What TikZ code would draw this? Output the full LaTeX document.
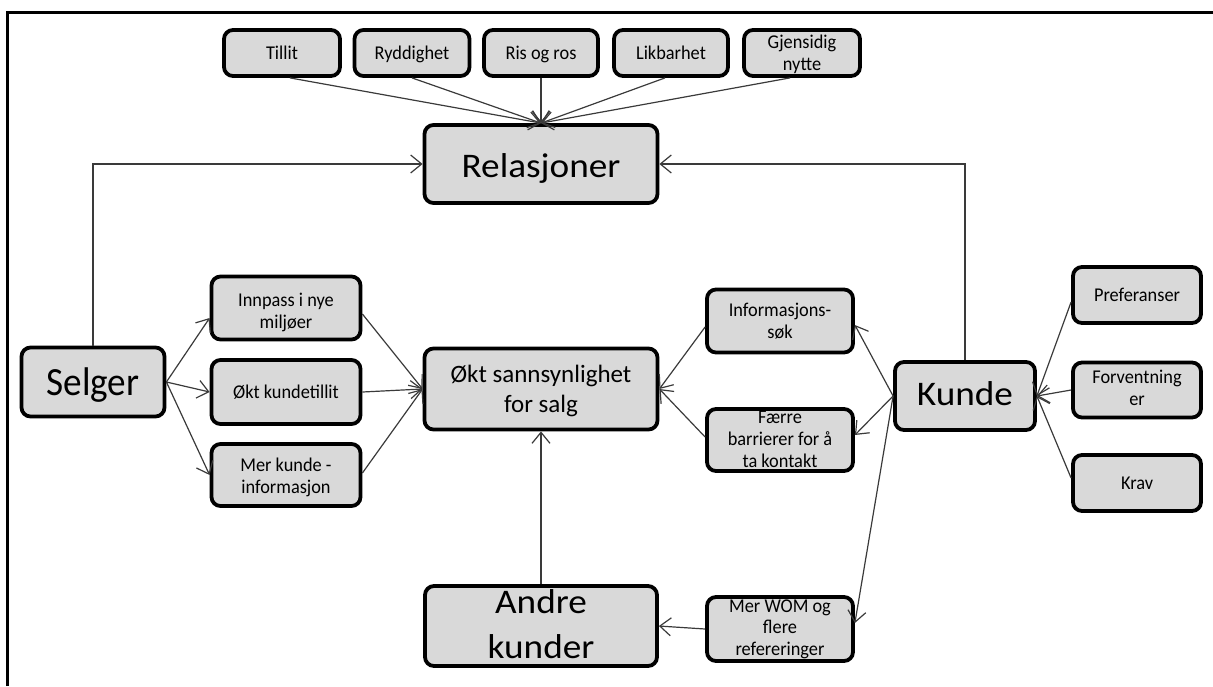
\documentclass[tikz,border=0pt]{standalone}
\usepackage{fontspec}
\setmainfont{Carlito}
\newfontfamily\smallfont{Carlito}[FakeStretch=0.94]
\newfontfamily\bigfont{Carlito}[FakeStretch=1.08]
\newfontfamily\selgerfont{Carlito}[FakeStretch=0.93]
\usetikzlibrary{arrows.meta}
\definecolor{boxgray}{HTML}{D9D9D9}
\definecolor{linegray}{HTML}{3A3A3A}
\begin{document}
\begin{tikzpicture}[x=1pt,y=-1pt,
  box/.style={draw=black, line width=3.8pt, rounded corners=9pt, fill=boxgray, align=center,
    inner sep=0pt, text depth=2pt, font=\smallfont\fontsize{19.5}{22}\selectfont, text=black},
  lift/.style={text height=#1},
  oneline/.style={text height=15pt, text depth=2pt},
  bigbox/.style={box, font=\bigfont\fontsize{34.5}{45}\selectfont},
  midbox/.style={box, font=\fontsize{25}{30}\selectfont},
  conn/.style={draw=linegray, line width=1.2pt, -{Straight Barb[length=11pt,width=18pt]}},
  frame/.style={draw=black, line width=2.5pt}
  ]
\useasboundingbox (0,0) rectangle (1213,686);
\draw[frame] (7.5,686) -- (7.5,12.5) -- (1213,12.5);

% top row
\node[box, oneline, minimum width=116pt, minimum height=46pt] (tillit) at (282,53) {Tillit};
\node[box, oneline, minimum width=115pt, minimum height=46pt] (rydd) at (412,53) {Ryddighet};
\node[box, oneline, minimum width=114pt, minimum height=46pt] (ris) at (541,53) {Ris og ros};
\node[box, oneline, minimum width=114pt, minimum height=46pt] (likb) at (671,53) {Likbarhet};
\node[box, lift=36pt, minimum width=116pt, minimum height=46pt] (gjen) at (802,53) {Gjensidig\\nytte};

\node[bigbox, text height=26pt, text depth=0pt, minimum width=233pt, minimum height=78pt] (rel) at (541,164) {Relasjoner};

% left
\node[bigbox, font=\selgerfont\fontsize{40}{45}\selectfont, text height=28pt, text depth=2pt,
  minimum width=143pt, minimum height=69pt] (selger) at (93,382) {Selger};
\node[box, lift=42pt, minimum width=149pt, minimum height=63pt] (innpass) at (286,308) {Innpass i nye\\miljøer};
\node[box, oneline, minimum width=149pt, minimum height=64pt] (tillitk) at (286,392) {Økt kundetillit};
\node[box, lift=38pt, minimum width=149pt, minimum height=62pt] (merk) at (286,475) {Mer kunde -\\informasjon};

% center
\node[midbox, lift=48pt, minimum width=233pt, minimum height=81pt] (okt) at (541,389) {Økt sannsynlighet\\for salg};
\node[bigbox, lift=66pt, minimum width=232pt, minimum height=80pt] (andre) at (541,626) {Andre\\kunder};

% right-middle
\node[box, lift=36pt, minimum width=146pt, minimum height=63pt] (info) at (780,321) {Informasjons-\\søk};
\node[box, lift=56pt, minimum width=146pt, minimum height=62pt] (faerre) at (780,440) {Færre\\barrierer for å\\ta kontakt};
\node[box, lift=54pt, font=\smallfont\fontsize{19.5}{21.5}\selectfont, minimum width=146pt, minimum height=64pt] (wom) at (780,629) {Mer WOM og\\flere\\refereringer};

% right
\node[bigbox, text height=22pt, text depth=4pt, minimum width=140pt, minimum height=68pt] (kunde) at (965,396) {Kunde};
\node[box, oneline, minimum width=128pt, minimum height=56pt] (pref) at (1137,295) {Preferanser};
\node[box, lift=32pt, minimum width=128pt, minimum height=55pt] (forv) at (1137,390) {Forventning\\er};
\node[box, oneline, minimum width=128pt, minimum height=56pt] (krav) at (1137,483) {Krav};

% connectors: top row to Relasjoner
\draw[conn] ([xshift=8pt]tillit.south) -- (rel.north);
\draw[conn] (rydd.south) -- (rel.north);
\draw[conn] (ris.south) -- (rel.north);
\draw[conn] ([xshift=-6pt]likb.south) -- (rel.north);
\draw[conn] ([xshift=-12pt]gjen.south) -- (rel.north);

% Selger / Kunde to Relasjoner
\draw[conn] (selger.north) |- (rel.west);
\draw[conn] (kunde.north) |- (rel.east);

% Selger branches
\draw[conn] (selger.east) -- ([yshift=-10pt]innpass.west);
\draw[conn] (selger.east) -- (tillitk.west);
\draw[conn] (selger.east) -- (merk.west);
\draw[conn] ([yshift=-6pt]innpass.east) -- (okt.west);
\draw[conn] (tillitk.east) -- (okt.west);
\draw[conn] ([yshift=2pt]merk.east) -- (okt.west);

% Kunde branches
\draw[conn] (kunde.west) -- ([yshift=-4pt]info.east);
\draw[conn] (kunde.west) -- ([yshift=5pt]faerre.east);
\draw[conn] (kunde.west) -- ([yshift=6pt]wom.east);
\draw[conn] ([yshift=-6pt]info.west) -- (okt.east);
\draw[conn] ([yshift=3pt]faerre.west) -- (okt.east);

% influences on Kunde
\draw[conn] ([yshift=-7pt]pref.west) -- (kunde.east);
\draw[conn] (forv.west) -- (kunde.east);
\draw[conn] ([yshift=5pt]krav.west) -- (kunde.east);

% WOM to Andre kunder, Andre kunder to okt
\draw[conn] (wom.west) -- (andre.east);
\draw[conn] (andre.north) -- (okt.south);
\end{tikzpicture}
\end{document}
